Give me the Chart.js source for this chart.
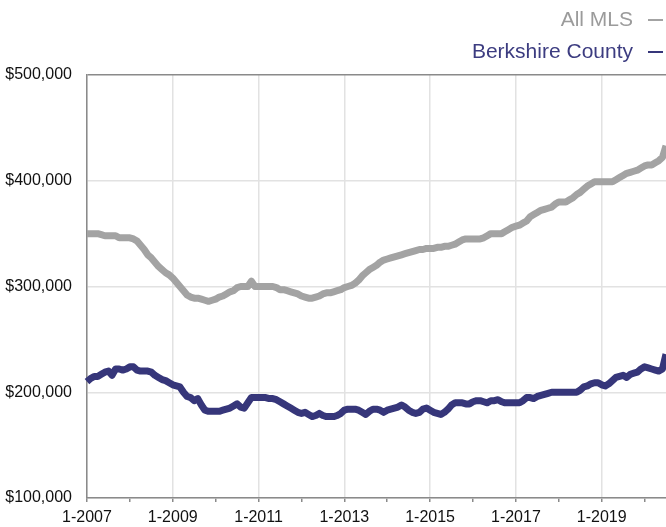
<!DOCTYPE html>
<html>
<head>
<meta charset="utf-8">
<script src="https://cdn.jsdelivr.net/npm/chart.js@4"></script>
<style>
  html, body { margin: 0; padding: 0; background: #fff; }
  #wrap { width: 666px; height: 527px; }
</style>
</head>
<body>
<div id="wrap"><canvas id="myChart" width="666" height="527"></canvas></div>
<script>
// years covered, monthly points from 1-2007 to 7-2020
var years = [2007, 2008, 2009, 2010, 2011, 2012, 2013, 2014, 2015, 2016, 2017, 2018, 2019, 2020];
var monthCount = 163;

// y axis ticks (thousands of dollars)
var yTicks = [100, 200, 300, 400, 500];

// median price, thousands of dollars, one value per month
var allMLS = [
  350, 350, 350, 350, 349, 348, 348, 348, 348, 346, 346, 346,
  346, 345, 343, 339, 335, 330, 327, 323, 319, 316, 313, 311,
  308, 304, 300, 296, 292, 290, 289, 289, 288, 287, 286, 287,
  288, 290, 291, 293, 295, 296, 299, 300, 300, 300, 305, 300,
  300, 300, 300, 300, 300, 299, 297, 297, 296, 295, 294, 293,
  291, 290, 289, 289, 290, 291, 293, 294, 294, 295, 296, 297,
  299, 300, 301, 303, 306, 310, 313, 316, 318, 320, 323, 325,
  326, 327, 328, 329, 330, 331, 332, 333, 334, 335, 335, 336,
  336, 336, 337, 337, 338, 338, 339, 340, 342, 344, 345, 345,
  345, 345, 345, 346, 348, 350, 350, 350, 350, 352, 354, 356,
  357, 358, 360, 362, 366, 368, 370, 372, 373, 374, 375, 378,
  380, 380, 380, 382, 384, 387, 389, 392, 395, 397, 399, 399,
  399, 399, 399, 399, 401, 403, 405, 407, 408, 409, 410, 412,
  414, 415, 415, 417, 419, 422, 433
];

var berkshire = [
  210, 213, 215, 215, 217, 219, 220, 216, 222, 222, 221, 222,
  224, 224, 221, 220, 220, 220, 219, 216, 214, 212, 211, 209,
  207, 206, 205, 200, 196, 195, 192, 194, 188, 183, 182, 182,
  182, 182, 183, 184, 185, 187, 189, 186, 185, 190, 195, 195,
  195, 195, 195, 194, 194, 193, 191, 189, 187, 185, 183, 181,
  180, 181, 179, 177, 178, 180, 178, 177, 177, 177, 178, 180,
  183, 184, 184, 184, 183, 181, 179, 182, 184, 184, 183, 181,
  183, 184, 185, 186, 188, 186, 183, 181, 180, 181, 184, 185,
  183, 181, 180, 179, 181, 184, 188, 190, 190, 190, 189, 189,
  191, 192, 192, 191, 190, 192, 192, 193, 191, 190, 190, 190,
  190, 190, 192, 195, 195, 194, 196, 197, 198, 199, 200, 200,
  200, 200, 200, 200, 200, 200, 202, 205, 206, 208, 209, 209,
  207, 206, 208, 211, 214, 215, 216, 214, 217, 218, 219, 222,
  224, 223, 222, 221, 220, 222, 236
];

// category labels like "1-2007"
var labels = [];
years.forEach(function (yr) {
  for (var mo = 1; mo <= 12; mo++) {
    if (labels.length < monthCount) labels.push(mo + '-' + yr);
  }
});

var GRAY = '#a3a3a3';
var NAVY = '#36367a';

// legend drawn at the top right: text, then a short dash
var rightLegend = {
  id: 'rightLegend',
  afterDraw: function (chart) {
    var ctx = chart.ctx;
    var rows = [
      { ds: chart.data.datasets[0], text: '#9b9b9b', y: 26 },
      { ds: chart.data.datasets[1], text: '#3c3c80', y: 58 }
    ];
    ctx.save();
    ctx.font = '21px "Liberation Sans", Arial, sans-serif';
    ctx.textAlign = 'right';
    ctx.textBaseline = 'alphabetic';
    rows.forEach(function (r) {
      ctx.fillStyle = r.text;
      ctx.fillText(r.ds.label, 633, r.y);
      ctx.strokeStyle = r.ds.borderColor;
      ctx.lineWidth = 2;
      ctx.beginPath();
      ctx.moveTo(648, r.y - 6);
      ctx.lineTo(663, r.y - 6);
      ctx.stroke();
    });
    ctx.restore();
  }
};

var ctx = document.getElementById('myChart').getContext('2d');
var myChart = new Chart(ctx, {
  type: 'line',
  data: {
    labels: labels,
    datasets: [{
      label: 'All MLS',
      data: allMLS,
      borderColor: GRAY,
      backgroundColor: GRAY,
      borderWidth: 7,
      tension: 0,
      pointRadius: 0,
      borderJoinStyle: 'round',
      fill: false
    }, {
      label: 'Berkshire County',
      data: berkshire,
      borderColor: NAVY,
      backgroundColor: NAVY,
      borderWidth: 7,
      tension: 0,
      pointRadius: 0,
      borderJoinStyle: 'round',
      fill: false
    }]
  },
  options: {
    responsive: false,
    animation: false,
    layout: { padding: { top: 75, right: 0, left: 0, bottom: 0 } },
    plugins: {
      legend: { display: false },
      tooltip: { enabled: false }
    },
    scales: {
      x: {
        type: 'category',
        offset: false,
        afterFit: function (scale) { scale.height = 29; },
        border: { color: '#8a8a8a', width: 1.5 },
        grid: {
          color: function (c) {
            return (c.tick && c.tick.value % 24 === 0) ? '#e2e2e2' : 'rgba(0,0,0,0)';
          },
          lineWidth: 1.5,
          tickColor: '#8a8a8a',
          tickLength: 4,
          drawTicks: true
        },
        ticks: {
          autoSkip: false,
          maxRotation: 0,
          padding: 6,
          color: '#111',
          font: { family: '"Liberation Sans", Arial, sans-serif', size: 16 },
          callback: function (val, i) {
            if (i % 12 !== 0) return null;
            return i % 24 === 0 ? labels[i] : '';
          }
        }
      },
      y: {
        min: yTicks[0],
        max: yTicks[yTicks.length - 1],
        afterFit: function (scale) { scale.width = 87; },
        afterBuildTicks: function (scale) {
          scale.ticks = yTicks.map(function (v) { return { value: v }; });
        },
        border: { color: '#8a8a8a', width: 1.5 },
        grid: {
          color: function (c) {
            return (c.tick && c.tick.value === 500) ? '#8a8a8a' : '#e2e2e2';
          },
          lineWidth: 1.5,
          drawTicks: false
        },
        ticks: {
          padding: 15,
          color: '#111',
          font: { family: '"Liberation Sans", Arial, sans-serif', size: 16 },
          callback: function (v) { return '$' + v + ',000'; }
        }
      }
    }
  },
  plugins: [rightLegend]
});
</script>
</body>
</html>
